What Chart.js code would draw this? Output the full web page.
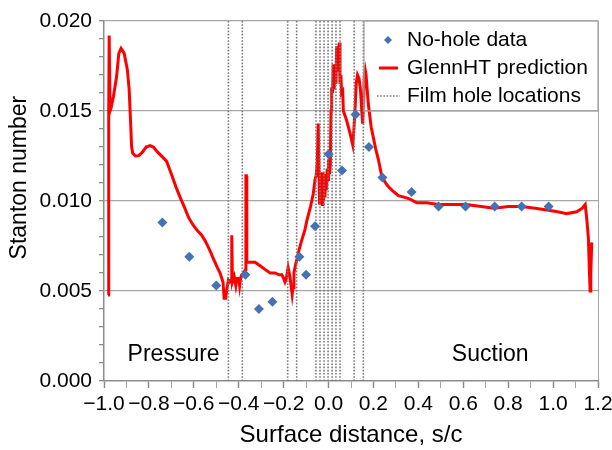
<!DOCTYPE html>
<html>
<head>
<meta charset="utf-8">
<script src="https://cdn.jsdelivr.net/npm/chart.js@4"></script>
<style>
  body { margin: 0; background: #fff; }
  #wrap { width: 612px; height: 450px; }
</style>
</head>
<body>
<div id="wrap"><canvas id="chart-stanton" width="612" height="450"></canvas></div>
<script>
// measured no-hole data (s/c, Stanton number)
const noHoleX = [-0.74, -0.62, -0.50, -0.37, -0.31, -0.25, -0.13, -0.10, -0.06, 0.00,
                 0.06, 0.12, 0.18, 0.24, 0.37, 0.49, 0.61, 0.74, 0.86, 0.98];
const noHoleY = [0.0088, 0.0069, 0.0053, 0.0059, 0.0040, 0.0044, 0.0069, 0.0059, 0.0086, 0.0126,
                 0.0117, 0.0148, 0.0130, 0.0113, 0.0105, 0.0097, 0.0097, 0.0097, 0.0097, 0.0097];

// GlennHT prediction
const predX = [-0.982, -0.980, -0.979, -0.978, -0.977, -0.975, -0.973, -0.968, -0.958, -0.944,
  -0.934, -0.924, -0.910, -0.896, -0.888, -0.882, -0.877, -0.872, -0.860, -0.845,
  -0.830, -0.812, -0.795, -0.780, -0.760, -0.740, -0.721, -0.700, -0.680, -0.661,
  -0.640, -0.624, -0.605, -0.587, -0.565, -0.550, -0.530, -0.513, -0.495, -0.483,
  -0.470, -0.465, -0.458, -0.453, -0.446, -0.440, -0.434, -0.432, -0.430, -0.428,
  -0.420, -0.413, -0.408, -0.400, -0.396, -0.392, -0.387, -0.378, -0.370, -0.368,
  -0.366, -0.364, -0.350, -0.327, -0.305, -0.283, -0.260, -0.238, -0.220, -0.208,
  -0.200, -0.194, -0.188, -0.180, -0.172, -0.166, -0.162, -0.158, -0.154, -0.148,
  -0.142, -0.131, -0.120, -0.105, -0.097, -0.080, -0.068, -0.060, -0.055, -0.050,
  -0.046, -0.043, -0.040, -0.037, -0.034, -0.031, -0.028, -0.025, -0.022, -0.019,
  -0.016, -0.013, -0.010, -0.006, -0.002, 0.000, 0.004, 0.008, 0.011, 0.014,
  0.018, 0.021, 0.025, 0.029, 0.033, 0.036, 0.040, 0.044, 0.048, 0.051,
  0.055, 0.058, 0.063, 0.066, 0.069, 0.080, 0.095, 0.108, 0.113, 0.118,
  0.123, 0.129, 0.136, 0.142, 0.148, 0.152, 0.156, 0.160, 0.163, 0.167,
  0.177, 0.190, 0.200, 0.210, 0.222, 0.235, 0.244, 0.260, 0.274, 0.292,
  0.311, 0.340, 0.363, 0.393, 0.437, 0.489, 0.550, 0.612, 0.680, 0.736,
  0.800, 0.861, 0.920, 0.972, 1.020, 1.061, 1.105, 1.130, 1.143, 1.150,
  1.157, 1.162, 1.165, 1.168, 1.172];
const predY = [0.00478, 0.0080, 0.0126, 0.0150, 0.0192, 0.0192, 0.0150, 0.0152, 0.0158, 0.0169,
  0.0182, 0.01848, 0.0182, 0.0173, 0.0162, 0.0145, 0.0130, 0.01265, 0.0125, 0.01252,
  0.0127, 0.0130, 0.01308, 0.0130, 0.0127, 0.01245, 0.0122, 0.0115, 0.0108, 0.0102,
  0.0096, 0.0091, 0.0087, 0.0084, 0.0081, 0.0078, 0.0073, 0.0068, 0.0063, 0.0060,
  0.0055, 0.0046, 0.0046, 0.0051, 0.0056, 0.0055, 0.0056, 0.0081, 0.0081, 0.0055,
  0.0058, 0.0053, 0.0057, 0.0057, 0.0053, 0.0057, 0.0059, 0.0060, 0.0062, 0.0114,
  0.0114, 0.0066, 0.0066, 0.0066, 0.0064, 0.0062, 0.0060, 0.0060, 0.0059, 0.0059,
  0.0057, 0.0055, 0.0057, 0.0063, 0.0058, 0.0052, 0.0048, 0.0052, 0.0060, 0.0064,
  0.0067, 0.0073, 0.0078, 0.0084, 0.0089, 0.0097, 0.0104, 0.0112, 0.0114, 0.0122,
  0.0143, 0.0143, 0.0098, 0.0112, 0.0099, 0.0116, 0.0098, 0.0116, 0.0100, 0.0115,
  0.0102, 0.0115, 0.0106, 0.0118, 0.0112, 0.0123, 0.0115, 0.0120, 0.0150, 0.0163,
  0.0160, 0.0176, 0.0162, 0.0175, 0.0165, 0.0186, 0.0172, 0.0184, 0.0188, 0.0165,
  0.0170, 0.0160, 0.0161, 0.0150, 0.0149, 0.0145, 0.0138, 0.0131, 0.0140, 0.0151,
  0.0165, 0.0170, 0.0168, 0.0162, 0.0150, 0.0143, 0.0155, 0.0171, 0.0173, 0.0170,
  0.0154, 0.0141, 0.0135, 0.0129, 0.0123, 0.0115, 0.0112, 0.0109, 0.0107, 0.0105,
  0.0103, 0.0102, 0.0101, 0.0099, 0.0099, 0.0098, 0.0098, 0.0098, 0.0097, 0.0096,
  0.0097, 0.0097, 0.0096, 0.0095, 0.0094, 0.0093, 0.0094, 0.0096, 0.0098, 0.0090,
  0.0080, 0.0060, 0.0050, 0.0060, 0.0077];

// film hole positions (s/c)
const holeX = [-0.446, -0.384, -0.182, -0.142, -0.056, -0.038, -0.020, -0.002, 0.016, 0.033,
               0.051, 0.114, 0.155];

// side labels inside the plot
const sideText = ['Pressure', 'Suction'];
const sideX = [-0.69, 0.72];
const sideY = [0.00147, 0.00147];

const stMin = 0, stMax = 0.020;

const FONT = '"Liberation Sans", Arial, sans-serif';
Chart.defaults.font.family = FONT;
Chart.defaults.color = '#000';

const holePts = [];
holeX.forEach(h => {
    holePts.push({ x: h, y: stMin }, { x: h, y: stMax }, { x: h, y: null });
});

const isMajorY = v => Math.round(v * 1000) % 5 === 0;
const isMajorX = v => Math.round(v * 10) % 2 === 0;

// "Pressure" / "Suction" labels and the y title (sits a bit above centre in the original)
const sideLabels = {
    id: 'sideLabels',
    afterDatasetsDraw(chart) {
        const { ctx, scales } = chart;
        ctx.save();
        ctx.font = '23px ' + FONT;
        ctx.fillStyle = '#000';
        ctx.textAlign = 'center';
        ctx.textBaseline = 'middle';
        sideText.forEach((t, i) => {
            ctx.fillText(t, scales.x.getPixelForValue(sideX[i]), scales.y.getPixelForValue(sideY[i]));
        });
        ctx.translate(20, scales.y.getPixelForValue(0.0113));
        ctx.rotate(-Math.PI / 2);
        ctx.fillText('Stanton number', 0, 0);
        ctx.restore();
    }
};

// legend drawn as a boxed panel in the upper right of the plot
const boxLegend = {
    id: 'boxLegend',
    afterDraw(chart) {
        const { ctx, chartArea } = chart;
        const w = 234, h = 90;
        const left = chartArea.right - w, top = chartArea.top;
        ctx.save();
        ctx.strokeStyle = '#a6a6a6';
        ctx.lineWidth = 1.3;
        ctx.strokeRect(left, top, w, h);
        ctx.font = '21px ' + FONT;
        ctx.fillStyle = '#000';
        ctx.textBaseline = 'middle';
        chart.data.datasets.forEach((ds, i) => {
            const y = top + 19 + i * 28;
            if (!ds.showLine) {
                ctx.fillStyle = ds.backgroundColor;
                ctx.beginPath();
                ctx.moveTo(left + 24, y - 4);
                ctx.lineTo(left + 28, y);
                ctx.lineTo(left + 24, y + 4);
                ctx.lineTo(left + 20, y);
                ctx.closePath();
                ctx.fill();
            } else {
                ctx.strokeStyle = ds.borderColor;
                ctx.lineWidth = ds.borderWidth;
                ctx.setLineDash(ds.borderDash || []);
                ctx.beginPath();
                ctx.moveTo(left + (ds.borderDash ? 13 : 15), y);
                ctx.lineTo(left + (ds.borderDash ? 36 : 34), y);
                ctx.stroke();
                ctx.setLineDash([]);
            }
            ctx.fillStyle = '#000';
            ctx.fillText(ds.label, left + 43, y);
        });
        ctx.restore();
    }
};

new Chart(document.getElementById('chart-stanton'), {
    type: 'scatter',
    data: {
        datasets: [{
            label: 'No-hole data',
            data: noHoleX.map((x, i) => ({ x, y: noHoleY[i] })),
            showLine: false,
            pointStyle: 'rectRot',
            pointRadius: 5,
            backgroundColor: '#4472b4',
            borderColor: '#4472b4',
            borderWidth: 0,
            order: 0
        }, {
            label: 'GlennHT prediction',
            data: predX.map((x, i) => ({ x, y: predY[i] })),
            showLine: true,
            pointRadius: 0,
            borderColor: '#ff0000',
            borderWidth: 3,
            tension: 0,
            order: 2
        }, {
            label: 'Film hole locations',
            data: holePts,
            showLine: true,
            spanGaps: false,
            pointRadius: 0,
            borderColor: '#7a7a7a',
            borderWidth: 1.6,
            borderDash: [1.6, 1.6],
            order: 1
        }]
    },
    options: {
        responsive: false,
        animation: false,
        layout: { padding: { top: 21, right: 14, left: 0, bottom: 0 } },
        plugins: { legend: { display: false }, tooltip: { enabled: false } },
        scales: {
            x: {
                type: 'linear',
                min: -1.0, max: 1.2,
                afterFit: s => { s.height = 69; s.paddingLeft = 0; s.paddingRight = 0; },
                ticks: {
                    stepSize: 0.1,
                    autoSkip: false,
                    maxRotation: 0,
                    padding: 4,
                    font: { size: 21 },
                    callback: v => {
                        if (!isMajorX(v)) return '';
                        if (Math.abs(v) < 1e-9) return '0.0';
                        return v.toFixed(1).replace('-', '\u2212');
                    }
                },
                grid: {
                    drawOnChartArea: true,
                    color: c => (c.tick && Math.abs(c.tick.value - 1.2) < 1e-6) ? '#a6a6a6' : 'transparent',
                    tickColor: '#8c8c8c',
                    tickLength: 7,
                    tickWidth: c => (c.tick && isMajorX(c.tick.value)) ? 1.5 : 0.8
                },
                border: { color: '#8c8c8c', width: 1.5 },
                title: { display: true, text: 'Surface distance, s/c', font: { size: 24 }, padding: { top: 0, bottom: 0 } }
            },
            y: {
                min: stMin, max: stMax,
                afterFit: s => { s.width = 104; s.paddingTop = 0; s.paddingBottom = 0; },
                ticks: {
                    stepSize: 0.001,
                    autoSkip: false,
                    padding: 7,
                    font: { size: 21 },
                    callback: v => isMajorY(v) ? v.toFixed(3) : ''
                },
                grid: {
                    color: c => (c.tick && isMajorY(c.tick.value) && c.tick.value > 0) ? '#a6a6a6' : 'transparent',
                    lineWidth: 1.3,
                    tickColor: '#8c8c8c',
                    tickLength: 5
                },
                border: { color: '#8c8c8c', width: 1.5 }
            }
        }
    },
    plugins: [sideLabels, boxLegend]
});
</script>
</body>
</html>
